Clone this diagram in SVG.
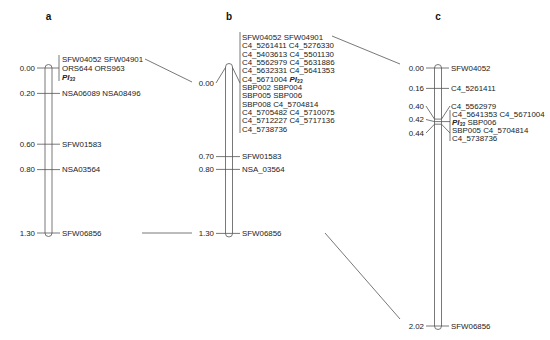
<svg xmlns="http://www.w3.org/2000/svg" width="550" height="340" viewBox="0 0 550 340">
<style>
text{font-family:"Liberation Sans",Arial,sans-serif;font-size:7.9px;fill:#222}
.pos{text-anchor:end}
.ttl{font-size:10px;font-weight:bold;text-anchor:middle;fill:#111}
.pi{font-weight:bold;font-style:italic}
.sub{font-size:5.2px}
line,path,polyline{stroke:#555;stroke-width:0.8;fill:none}
.bar{fill:#fff;stroke:#555;stroke-width:0.8}
</style>
<rect width="550" height="340" fill="#fff"/>
<g id="titles">
<text class="ttl" x="48.5" y="20">a</text>
<text class="ttl" x="229" y="20">b</text>
<text class="ttl" x="438" y="20">c</text>
</g>
<g id="chromosome-a">
<rect class="bar" x="45" y="64.5" width="7" height="172" rx="3.5"/>
<line x1="37" y1="68" x2="59" y2="68"/>
<line x1="59" y1="55" x2="59" y2="81"/>
<text class="pos" x="35" y="70.8">0.00</text>
<text x="62" y="61.8">SFW04052 SFW04901</text>
<text x="62" y="70.8">ORS644 ORS963</text>
<text x="62" y="79.8"><tspan class="pi">PI<tspan class="sub" dy="1.5">33</tspan></tspan></text>
<line x1="37" y1="93.4" x2="60" y2="93.4"/>
<text class="pos" x="35" y="96.2">0.20</text>
<text x="62" y="96.2">NSA06089 NSA08496</text>
<line x1="37" y1="144.2" x2="60" y2="144.2"/>
<text class="pos" x="35" y="147">0.60</text>
<text x="62" y="147">SFW01583</text>
<line x1="37" y1="169.6" x2="60" y2="169.6"/>
<text class="pos" x="35" y="172.4">0.80</text>
<text x="62" y="172.4">NSA03564</text>
<line x1="37" y1="233" x2="60" y2="233"/>
<text class="pos" x="35" y="235.8">1.30</text>
<text x="62" y="235.8">SFW06856</text>
</g>
<g id="chromosome-b">
<rect class="bar" x="225.5" y="63.5" width="7" height="173.5" rx="3.5"/>
<polyline points="216,83 225.5,67.5"/>
<polyline points="232.5,67.5 240,83"/>
<line x1="240" y1="32" x2="240" y2="133"/>
<text class="pos" x="214" y="85.8">0.00</text>
<text x="242" y="39.8">SFW04052 SFW04901</text>
<text x="242" y="48.2">C4_5261411 C4_5276330</text>
<text x="242" y="56.5">C4_5403613 C4_5501130</text>
<text x="242" y="64.9">C4_5562979 C4_5631886</text>
<text x="242" y="73.2">C4_5632331 C4_5641353</text>
<text x="242" y="81.6">C4_5671004 <tspan class="pi">PI<tspan class="sub" dy="1.5">33</tspan></tspan></text>
<text x="242" y="90">SBP002 SBP004</text>
<text x="242" y="98.3">SBP005 SBP006</text>
<text x="242" y="106.7">SBP008 C4_5704814</text>
<text x="242" y="115">C4_5705482 C4_5710075</text>
<text x="242" y="123.4">C4_5712227 C4_5717136</text>
<text x="242" y="131.8">C4_5738736</text>
<line x1="216" y1="156.6" x2="240" y2="156.6"/>
<text class="pos" x="214" y="159.4">0.70</text>
<text x="242" y="159.4">SFW01583</text>
<line x1="216" y1="169.4" x2="240" y2="169.4"/>
<text class="pos" x="214" y="172.2">0.80</text>
<text x="242" y="172.2">NSA_03564</text>
<line x1="216" y1="233.4" x2="240" y2="233.4"/>
<text class="pos" x="214" y="236.2">1.30</text>
<text x="242" y="236.2">SFW06856</text>
</g>
<g id="chromosome-c">
<rect class="bar" x="434.5" y="64.5" width="7" height="265" rx="3.5"/>
<line x1="426" y1="68" x2="449" y2="68"/>
<text class="pos" x="424" y="70.8">0.00</text>
<text x="451" y="70.8">SFW04052</text>
<line x1="426" y1="88.4" x2="449" y2="88.4"/>
<text class="pos" x="424" y="91.2">0.16</text>
<text x="451" y="91.2">C4_5261411</text>
<line x1="434.5" y1="119.1" x2="441.5" y2="119.1"/>
<line x1="434.5" y1="121.6" x2="441.5" y2="121.6"/>
<line x1="434.5" y1="124.2" x2="441.5" y2="124.2"/>
<polyline points="426,106 434.5,119.1"/>
<polyline points="426,119.5 434.5,121.6"/>
<polyline points="426,133 434.5,124.2"/>
<polyline points="441.5,119.1 450,106"/>
<polyline points="441.5,121.6 450,121.6"/>
<polyline points="441.5,124.2 450,133"/>
<line x1="450" y1="110" x2="450" y2="141"/>
<text class="pos" x="424" y="108.8">0.40</text>
<text class="pos" x="424" y="122.3">0.42</text>
<text class="pos" x="424" y="135.8">0.44</text>
<text x="451" y="108.8">C4_5562979</text>
<text x="452" y="116.8">C4_5641353 C4_5671004</text>
<text x="452" y="124.8"><tspan class="pi">PI<tspan class="sub" dy="1.5">33</tspan></tspan><tspan dy="-1.5"> SBP006</tspan></text>
<text x="452" y="132.8">SBP005 C4_5704814</text>
<text x="452" y="140.8">C4_5738736</text>
<line x1="426" y1="326" x2="449" y2="326"/>
<text class="pos" x="424" y="328.8">2.02</text>
<text x="451" y="328.8">SFW06856</text>
</g>
<g id="connectors">
<line x1="145" y1="59" x2="192" y2="82"/>
<line x1="142" y1="233" x2="192" y2="233"/>
<line x1="332" y1="36" x2="400" y2="64"/>
<line x1="325" y1="233" x2="400" y2="319"/>
</g>
</svg>
